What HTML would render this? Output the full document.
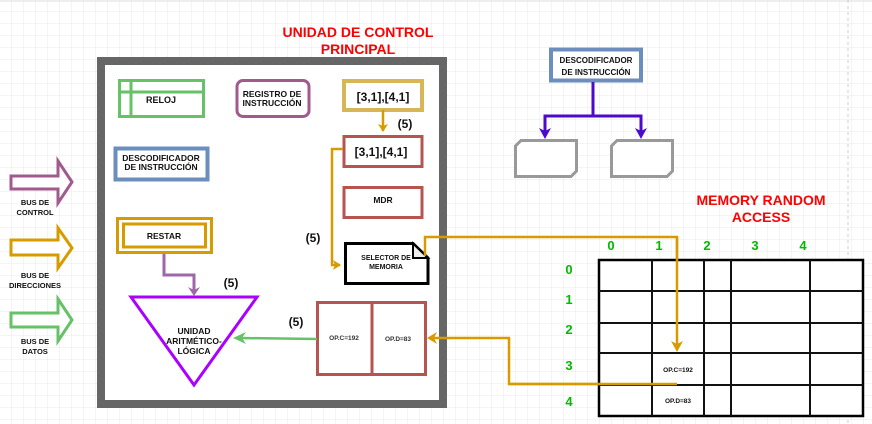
<!DOCTYPE html>
<html><head><meta charset="utf-8"><style>
html,body{margin:0;padding:0;background:#fff}
svg{display:block}
text{font-family:"Liberation Sans",sans-serif;font-weight:bold}
</style></head><body>
<svg width="872" height="424" viewBox="0 0 872 424" xmlns="http://www.w3.org/2000/svg">
<defs>
<pattern id="g" width="12" height="12" patternUnits="userSpaceOnUse">
<path d="M12 0V12M0 12H12" stroke="#e8e8e8" stroke-width="1" fill="none"/>
</pattern>
<marker id="ao" markerWidth="10" markerHeight="10" refX="7" refY="5" orient="auto" markerUnits="userSpaceOnUse"><path d="M0 0L8 5L0 10L2 5Z" fill="#d79b00"/></marker>
</defs>
<rect width="872" height="424" fill="url(#g)"/>
<line x1="0" y1="1" x2="872" y2="1" stroke="#ddd"/>
<line x1="848" y1="0" x2="848" y2="424" stroke="#ccc" stroke-dasharray="3 3"/>

<text x="358" y="37" font-size="14" fill="#ff0000" text-anchor="middle">UNIDAD DE CONTROL</text>
<text x="358" y="54" font-size="14" fill="#ff0000" text-anchor="middle">PRINCIPAL</text>

<rect x="101" y="61" width="342" height="343" fill="#fff" stroke="#666" stroke-width="8"/>

<!-- RELOJ -->
<rect x="119.5" y="80.5" width="84" height="36" fill="#fff" stroke="#66c266" stroke-width="3"/>
<line x1="131" y1="80" x2="131" y2="117" stroke="#66c266" stroke-width="3"/>
<line x1="119" y1="92" x2="204" y2="92" stroke="#66c266" stroke-width="3"/>
<text x="161" y="103" font-size="9" text-anchor="middle" fill="#111">RELOJ</text>

<rect x="237" y="80.5" width="72" height="36" rx="6" fill="#fff" stroke="#a05a8c" stroke-width="3"/>
<text x="272" y="97" font-size="8.5" text-anchor="middle" fill="#111">REGISTRO DE</text>
<text x="272" y="106" font-size="8.5" text-anchor="middle" fill="#111">INSTRUCCIÓN</text>

<rect x="344" y="81" width="78" height="29" fill="#fff" stroke="#d6b656" stroke-width="4"/>
<text x="383" y="101" font-size="12" text-anchor="middle" fill="#111">[3,1],[4,1]</text>
<line x1="383" y1="110" x2="383" y2="131" stroke="#d79b00" stroke-width="2.5" marker-end="url(#ao)"/>
<text x="405" y="128" font-size="12" text-anchor="middle" fill="#111">(5)</text>

<rect x="344" y="136.5" width="78" height="30" fill="#fff" stroke="#b85450" stroke-width="3"/>
<text x="381" y="156" font-size="12" text-anchor="middle" fill="#111">[3,1],[4,1]</text>

<rect x="115.5" y="148.5" width="92" height="31" fill="#fff" stroke="#6c8ebf" stroke-width="4"/>
<text x="161" y="161" font-size="8.5" text-anchor="middle" fill="#111">DESCODIFICADOR</text>
<text x="161" y="170" font-size="8.5" text-anchor="middle" fill="#111">DE INSTRUCCIÓN</text>

<rect x="344" y="187.5" width="78" height="30" fill="#fff" stroke="#b85450" stroke-width="3"/>
<text x="383" y="203" font-size="8.5" text-anchor="middle" fill="#111">MDR</text>

<!-- RESTAR -->
<rect x="117.5" y="218.5" width="94" height="34" fill="#fff" stroke="#d79b00" stroke-width="3"/>
<rect x="123.5" y="224" width="82" height="23" fill="none" stroke="#d79b00" stroke-width="3"/>
<text x="164" y="239" font-size="8.5" text-anchor="middle" fill="#111">RESTAR</text>

<text x="313" y="242" font-size="12" text-anchor="middle" fill="#111">(5)</text>
<polyline points="343,149 332,149 332,265 340,265" fill="none" stroke="#d79b00" stroke-width="2.5" marker-end="url(#ao)"/>

<!-- selector -->
<path d="M345.5 243.5H413L428 258V283.5H345.5Z" fill="#fff" stroke="#000" stroke-width="3"/>
<path d="M413 243.5V258H428Z" fill="#eee" stroke="#000" stroke-width="2"/>
<text x="386" y="260" font-size="7" text-anchor="middle" fill="#111">SELECTOR DE</text>
<text x="386" y="269" font-size="7" text-anchor="middle" fill="#111">MEMORIA</text>
<polyline points="425,256 425,237 677,237 677,348" fill="none" stroke="#d79b00" stroke-width="2.5" marker-end="url(#ao)"/>

<!-- restar to ALU -->
<polyline points="164,254 164,275 194,275 194,292" fill="none" stroke="#a066aa" stroke-width="3"/>
<path d="M188 287L194 296L200 287L194 290Z" fill="#a066aa"/>
<text x="231" y="287" font-size="12" text-anchor="middle" fill="#111">(5)</text>

<polygon points="131,297 257,297 194,385" fill="#fff" stroke="#aa00ff" stroke-width="3"/>
<text x="194" y="334" font-size="8.5" text-anchor="middle" fill="#111">UNIDAD</text>
<text x="194" y="344" font-size="8.5" text-anchor="middle" fill="#111">ARITMÉTICO-</text>
<text x="194" y="354" font-size="8.5" text-anchor="middle" fill="#111">LÓGICA</text>

<rect x="317.5" y="302.5" width="108" height="72" fill="#fff" stroke="#b85450" stroke-width="3"/>
<line x1="372" y1="302" x2="372" y2="375" stroke="#b85450" stroke-width="3"/>
<text x="344" y="340" font-size="6.5" text-anchor="middle" fill="#333" font-weight="normal">OP.C=192</text>
<text x="398" y="341" font-size="6.5" text-anchor="middle" fill="#333" font-weight="normal">OP.D=83</text>
<line x1="317" y1="339" x2="240" y2="338" stroke="#66c266" stroke-width="2.5"/>
<path d="M246 332L233 338L246 344L242 338Z" fill="#66c266"/>
<text x="296" y="326" font-size="12" text-anchor="middle" fill="#111">(5)</text>
<polyline points="677,384 509,384 509,338 430,338" fill="none" stroke="#d79b00" stroke-width="2.5"/>
<path d="M437 332L427 338L437 344L434 338Z" fill="#d79b00"/>

<!-- bus arrows -->
<g fill="#fff" stroke-width="3">
<path d="M11 176H58V161L72 182L58 203V189H11Z" stroke="#a05a8c"/>
<path d="M11 240H58V228L72 248L58 268V255H11Z" stroke="#d79b00"/>
<path d="M11 313H58V299L72 320L58 341V327H11Z" stroke="#66c266"/>
</g>
<g font-size="7.5" text-anchor="middle" fill="#111">
<text x="35" y="205">BUS DE</text><text x="35" y="215">CONTROL</text>
<text x="35" y="278">BUS DE</text><text x="35" y="288">DIRECCIONES</text>
<text x="35" y="344">BUS DE</text><text x="35" y="354">DATOS</text>
</g>

<!-- top right decoder -->
<rect x="551" y="49.5" width="90" height="31" fill="#fff" stroke="#6c8ebf" stroke-width="4"/>
<text x="596" y="63" font-size="8" text-anchor="middle" fill="#111">DESCODIFICADOR</text>
<text x="596" y="75" font-size="8" text-anchor="middle" fill="#111">DE INSTRUCCIÓN</text>
<polyline points="593,82 593,116 545,116 545,133" fill="none" stroke="#4c0acc" stroke-width="3"/>
<polyline points="593,116 641,116 641,133" fill="none" stroke="#4c0acc" stroke-width="3"/>
<path d="M539 128L545 139L551 128L545 131Z" fill="#4c0acc"/>
<path d="M635 128L641 139L647 128L641 131Z" fill="#4c0acc"/>
<path d="M521 140.5H576.5V171L571 176.5H515.5V146Z" fill="#fff" stroke="#999" stroke-width="3"/>
<path d="M617 140.5H672.5V171L667 176.5H611.5V146Z" fill="#fff" stroke="#999" stroke-width="3"/>

<!-- memory -->
<text x="761" y="205" font-size="14" fill="#ff0000" text-anchor="middle">MEMORY RANDOM</text>
<text x="761" y="222" font-size="14" fill="#ff0000" text-anchor="middle">ACCESS</text>
<g font-size="13" fill="#00bb00" text-anchor="middle">
<text x="611" y="250">0</text><text x="659" y="250">1</text><text x="707" y="250">2</text><text x="755" y="250">3</text><text x="803" y="250">4</text>
<text x="569" y="274">0</text><text x="569" y="304">1</text><text x="569" y="334">2</text><text x="569" y="370">3</text><text x="569" y="406">4</text>
</g>
<rect x="599" y="260" width="264" height="156" fill="#fff" stroke="#000" stroke-width="2.5"/>
<g stroke="#111" stroke-width="2">
<line x1="652" y1="260" x2="652" y2="416"/><line x1="704" y1="260" x2="704" y2="416"/>
<line x1="731" y1="260" x2="731" y2="416"/><line x1="810" y1="260" x2="810" y2="416"/>
<line x1="599" y1="291" x2="863" y2="291"/><line x1="599" y1="323" x2="863" y2="323"/>
<line x1="599" y1="353" x2="863" y2="353"/><line x1="599" y1="385" x2="863" y2="385"/>
</g>
<polyline points="677,237 677,348" fill="none" stroke="#d79b00" stroke-width="2.5"/>
<path d="M671 341L677 352L683 341L677 344Z" fill="#d79b00"/>
<line x1="677" y1="384" x2="509" y2="384" stroke="#d79b00" stroke-width="2.5"/>
<text x="678" y="372" font-size="6.5" text-anchor="middle" fill="#111">OP.C=192</text>
<text x="678" y="403" font-size="6.5" text-anchor="middle" fill="#111">OP.D=83</text>
</svg>
</body></html>
